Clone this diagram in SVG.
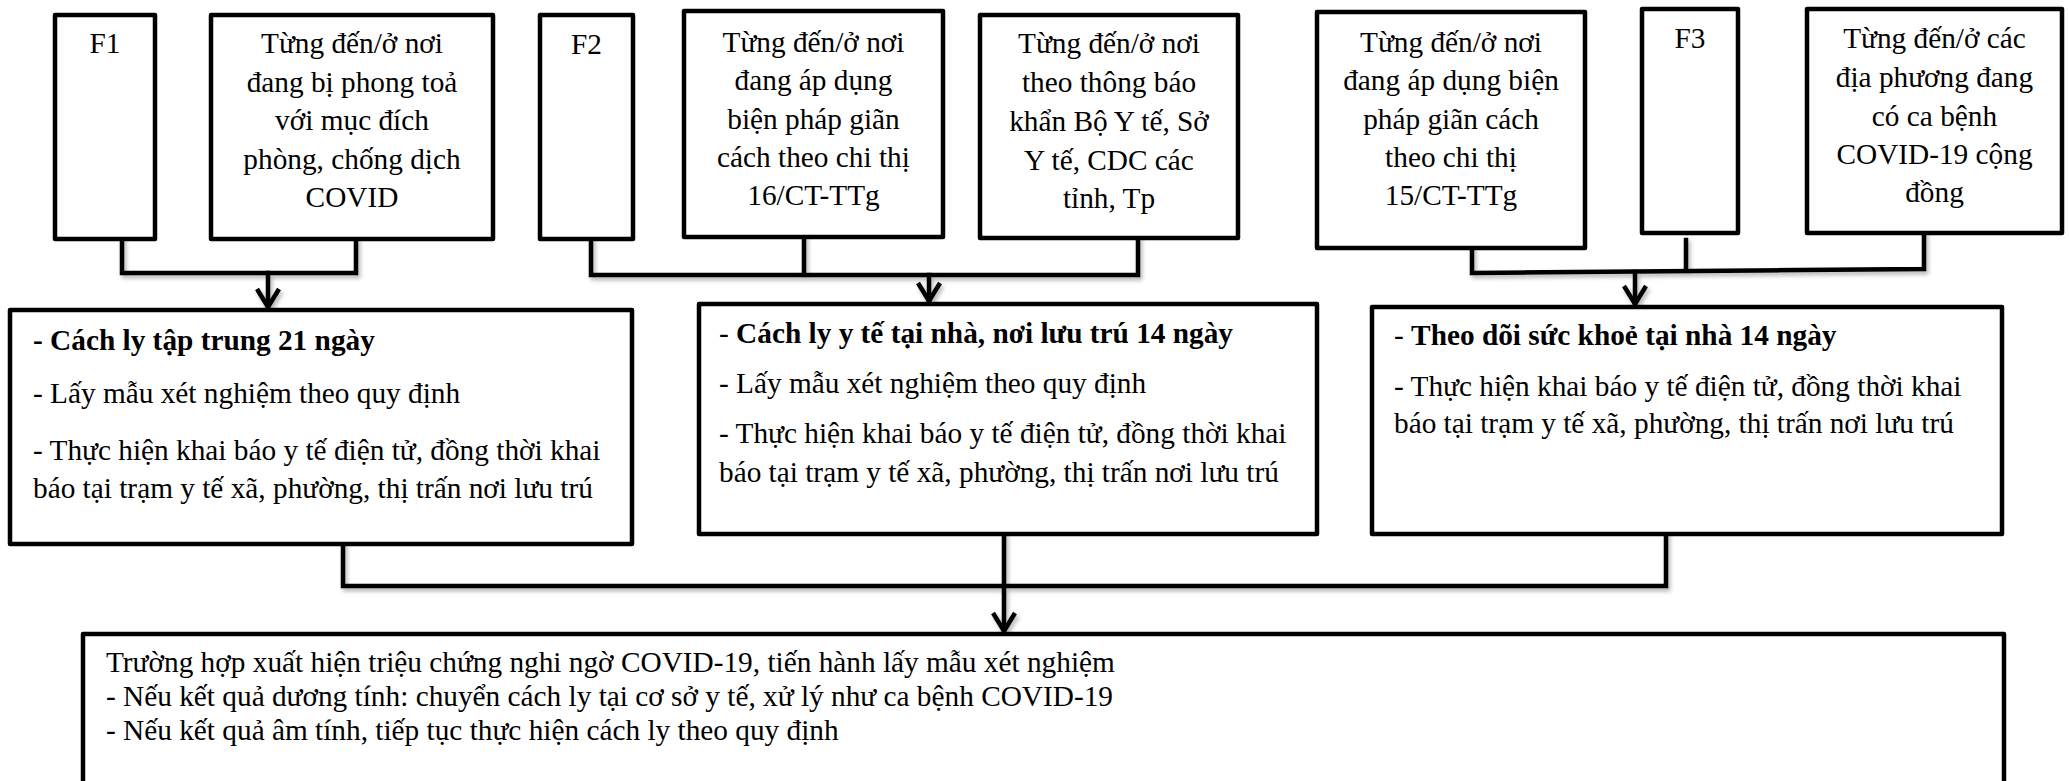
<svg xmlns="http://www.w3.org/2000/svg" width="2069" height="781" viewBox="0 0 2069 781">
<style>
.box{fill:#fff;stroke:#000;stroke-width:4.5;stroke-linejoin:round}
.t{font-family:"Liberation Serif","Times New Roman",serif;font-size:29.3px;fill:#000}
.c{text-anchor:middle}
.b{font-weight:bold}
.ln{fill:none;stroke:#000;stroke-width:4.5;stroke-linecap:square}
</style>
<defs>
<filter id="sh" x="-5%" y="-50%" width="110%" height="200%">
<feDropShadow dx="2" dy="3" stdDeviation="2" flood-color="#000" flood-opacity="0.3"/>
</filter>
<marker id="ah" markerUnits="userSpaceOnUse" viewBox="-22 -14 26 28" refX="0" refY="0" markerWidth="26" markerHeight="28" orient="auto">
<path d="M-18,-11 L0,0 L-18,11" fill="none" stroke="#000" stroke-width="4.5" stroke-linejoin="miter"/>
</marker>
</defs>
<rect width="2069" height="781" fill="#fff"/>

<g id="connectors" filter="url(#sh)">
<path class="ln" d="M122,239 V273 H356 V239"/>
<path class="ln" d="M268,273 V307" marker-end="url(#ah)"/>
<path class="ln" d="M591,239 V275 H1138 V238 M804,237 V275"/>
<path class="ln" d="M929,275 V301" marker-end="url(#ah)"/>
<path class="ln" d="M1472,248 V273 L1924,269 V233 M1686,240 V271"/>
<path class="ln" d="M1635,272 V304" marker-end="url(#ah)"/>
<path class="ln" d="M343,544 V586 H1666 V533 M1004,534 V586"/>
<path class="ln" d="M1004,586 V631" marker-end="url(#ah)"/>
</g>

<g id="f1">
<rect class="box" x="55" y="15" width="100" height="224"/>
<text class="t c" x="105" y="53">F1</text>
</g>
<g id="f1-place">
<rect class="box" x="211" y="15" width="282" height="224"/>
<text class="t c" x="352" y="53">Từng đến/ở nơi</text>
<text class="t c" x="352" y="91.5">đang bị phong toả</text>
<text class="t c" x="352" y="130">với mục đích</text>
<text class="t c" x="352" y="168.5">phòng, chống dịch</text>
<text class="t c" x="352" y="207">COVID</text>
</g>
<g id="f2">
<rect class="box" x="540" y="15" width="93" height="224"/>
<text class="t c" x="586.5" y="54">F2</text>
</g>
<g id="f2-place1">
<rect class="box" x="684" y="11" width="259" height="226"/>
<text class="t c" x="813.5" y="52">Từng đến/ở nơi</text>
<text class="t c" x="813.5" y="90">đang áp dụng</text>
<text class="t c" x="813.5" y="128.5">biện pháp giãn</text>
<text class="t c" x="813.5" y="167">cách theo chi thị</text>
<text class="t c" x="813.5" y="205">16/CT-TTg</text>
</g>
<g id="f2-place2">
<rect class="box" x="980" y="15" width="258" height="223"/>
<text class="t c" x="1109" y="53">Từng đến/ở nơi</text>
<text class="t c" x="1109" y="92">theo thông báo</text>
<text class="t c" x="1109" y="131">khẩn Bộ Y tế, Sở</text>
<text class="t c" x="1109" y="170">Y tế, CDC các</text>
<text class="t c" x="1109" y="208">tỉnh, Tp</text>
</g>
<g id="f3-place1">
<rect class="box" x="1317" y="12" width="268" height="236"/>
<text class="t c" x="1451" y="52">Từng đến/ở nơi</text>
<text class="t c" x="1451" y="90">đang áp dụng biện</text>
<text class="t c" x="1451" y="128.5">pháp giãn cách</text>
<text class="t c" x="1451" y="167">theo chi thị</text>
<text class="t c" x="1451" y="205">15/CT-TTg</text>
</g>
<g id="f3">
<rect class="box" x="1642" y="9" width="96" height="224"/>
<text class="t c" x="1690" y="48">F3</text>
</g>
<g id="f3-place2">
<rect class="box" x="1807" y="9" width="255" height="224"/>
<text class="t c" x="1934.5" y="48">Từng đến/ở các</text>
<text class="t c" x="1934.5" y="87">địa phương đang</text>
<text class="t c" x="1934.5" y="125.5">có ca bệnh</text>
<text class="t c" x="1934.5" y="164">COVID-19 cộng</text>
<text class="t c" x="1934.5" y="202">đồng</text>
</g>

<g id="measure-f1">
<rect class="box" x="10" y="310" width="622" height="234"/>
<text class="t b" x="33" y="350">- Cách ly tập trung 21 ngày</text>
<text class="t" x="33" y="403">- Lấy mẫu xét nghiệm theo quy định</text>
<text class="t" x="33" y="460">- Thực hiện khai báo y tế điện tử, đồng thời khai</text>
<text class="t" x="33" y="498">báo tại trạm y tế xã, phường, thị trấn nơi lưu trú</text>
</g>
<g id="measure-f2">
<rect class="box" x="699" y="304" width="618" height="230"/>
<text class="t" x="719" y="343">- <tspan class="b">Cách ly y tế tại nhà, nơi lưu trú 14 ngày</tspan></text>
<text class="t" x="719" y="393">- Lấy mẫu xét nghiệm theo quy định</text>
<text class="t" x="719" y="443">- Thực hiện khai báo y tế điện tử, đồng thời khai</text>
<text class="t" x="719" y="482">báo tại trạm y tế xã, phường, thị trấn nơi lưu trú</text>
</g>
<g id="measure-f3">
<rect class="box" x="1372" y="307" width="630" height="227"/>
<text class="t" x="1394" y="345">- <tspan class="b">Theo dõi sức khoẻ tại nhà 14 ngày</tspan></text>
<text class="t" x="1394" y="396">- Thực hiện khai báo y tế điện tử, đồng thời khai</text>
<text class="t" x="1394" y="433">báo tại trạm y tế xã, phường, thị trấn nơi lưu trú</text>
</g>
<g id="outcome">
<rect class="box" x="83" y="634" width="1921" height="170"/>
<text class="t" x="106" y="672">Trường hợp xuất hiện triệu chứng nghi ngờ COVID-19, tiến hành lấy mẫu xét nghiệm</text>
<text class="t" x="106" y="706">- Nếu kết quả dương tính: chuyển cách ly tại cơ sở y tế, xử lý như ca bệnh COVID-19</text>
<text class="t" x="106" y="740">- Nếu kết quả âm tính, tiếp tục thực hiện cách ly theo quy định</text>
</g>
</svg>
